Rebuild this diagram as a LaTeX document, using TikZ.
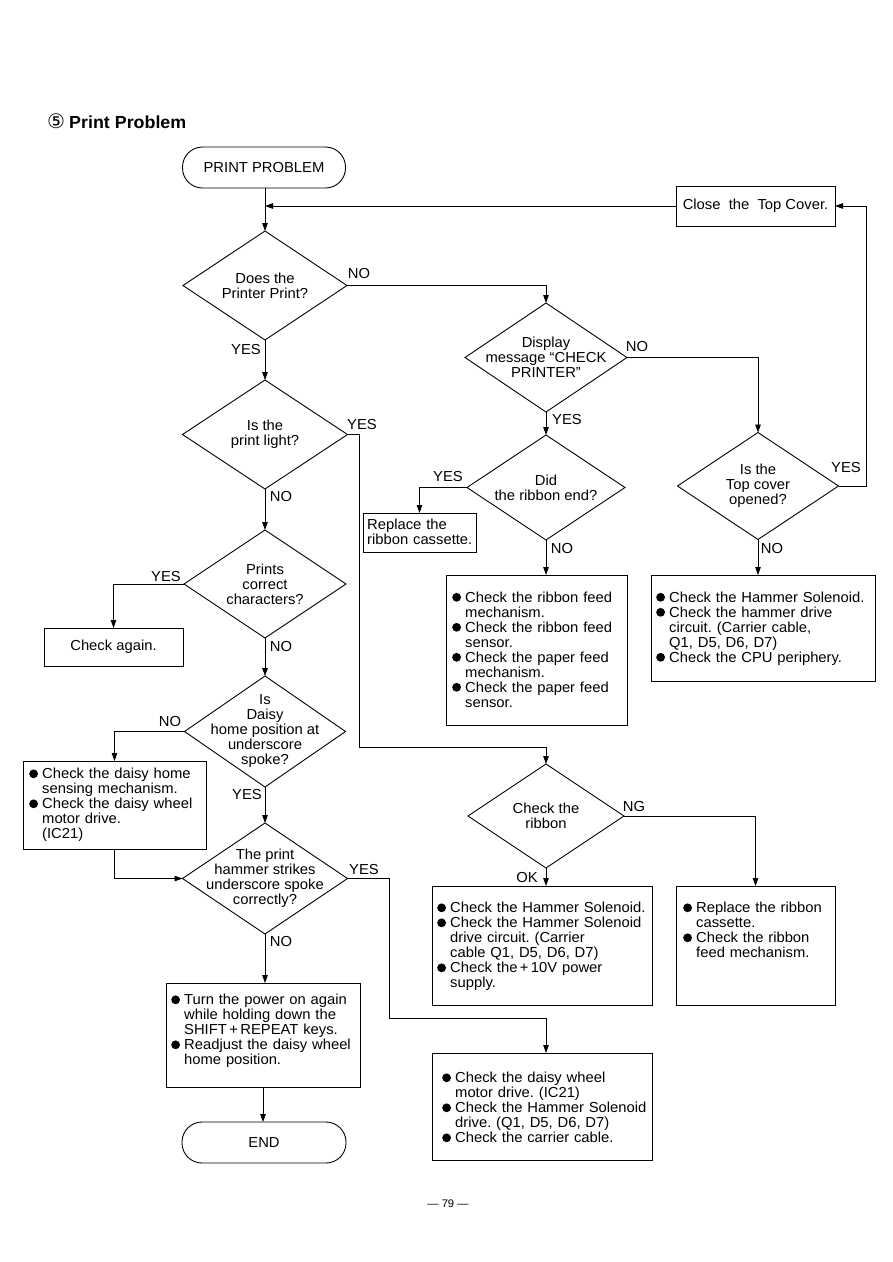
\documentclass[tikz,border=0pt]{standalone}
\usepackage{fontspec}
\setmainfont{Liberation Sans}[FakeStretch=1.02]
\newfontfamily\symfont{DejaVu Sans}
\usetikzlibrary{shapes.geometric,arrows.meta,calc}
\newcommand\bul{\tikz[baseline=0pt]\fill (4.5pt,4.9pt) circle (4.4pt);}
\newcommand\itm{\par\noindent\hangindent=13pt\hangafter=1\makebox[13pt][l]{\bul}\ignorespaces}
\frenchspacing
\begin{document}
\begin{tikzpicture}[x=1pt,y=-1pt,
  every node/.style={font=\fontsize{14.5}{15}\selectfont},
  ln/.style={line width=0.9pt},
  arr/.style={ln,-{Triangle[length=8pt,width=5.5pt]}},
  dec/.style={diamond,draw,ln,inner sep=0pt,outer sep=0pt},
  term/.style={draw,ln,rounded corners=20pt,minimum height=41pt,inner sep=0pt,outer sep=0pt},
  bx/.style={draw,ln,inner sep=0pt,outer sep=0pt},
  bt/.style={anchor=north west,inner sep=0pt,align=left,text width=#1},
  lab/.style={inner sep=0pt}]
\useasboundingbox (0,0) rectangle (893,1262);
\fill[white] (0,0) rectangle (893,1262);

% title
\node[anchor=west,inner sep=0pt] (title) at (47,121) {{\fontsize{20}{22}\selectfont\symfont ⑤}\ {\fontsize{17.5}{20}\selectfont\bfseries Print Problem}};

% terminals
\node[term,minimum width=163pt] (start) at (264,167.5) {PRINT PROBLEM};
\node[term,minimum width=164pt] (end) at (264,1142.5) {END};

% decisions
\node[dec,minimum width=164pt,minimum height=109pt,label={[align=center]center:Does the\\Printer Print?}] (d1) at (265,285.5) {};
\node[dec,minimum width=162pt,minimum height=109pt,label={[align=center]center:Display\\message “CHECK\\PRINTER”}] (d2) at (546,357.5) {};
\node[dec,minimum width=161pt,minimum height=107pt,label={[align=center]center:Is the\\Top cover\\opened?}] (d3) at (758,486) {};
\node[dec,minimum width=158pt,minimum height=105pt,label={[align=center]center:Did\\the ribbon end?}] (d4) at (546,487.5) {};
\node[dec,minimum width=165pt,minimum height=109pt,label={[align=center]center:Is the\\print light?}] (d5) at (265,434.5) {};
\node[dec,minimum width=162pt,minimum height=108pt,label={[align=center]center:Prints\\correct\\characters?}] (d6) at (265,584) {};
\node[dec,minimum width=161pt,minimum height=111pt,label={[align=center]center:Is\\Daisy\\home position at\\underscore\\spoke?}] (d7) at (265,731.5) {};
\node[dec,minimum width=165pt,minimum height=111pt,label={[align=center]center:The print\\hammer strikes\\underscore spoke\\correctly?}] (d8) at (265,878.5) {};
\node[dec,minimum width=156pt,minimum height=104pt,label={[align=center]center:Check the\\ribbon}] (d9) at (546,816) {};

% boxes
\node[bx,minimum width=159pt,minimum height=40pt] (close) at (755.5,206) {Close\ \ the\ \ Top Cover.};
\node[bx,minimum width=113pt,minimum height=39pt] (rep) at (419.5,532.5) {};
\node[bt=108pt] (rep-t) at (367,519) {Replace the\newline ribbon cassette.\par};
\node[bx,minimum width=181pt,minimum height=150pt] (rf) at (536.5,650) {};
\node[bt=172pt] (rf-t) at (452,587) {\itm Check the ribbon feed\newline mechanism.
  \itm Check the ribbon feed\newline sensor.
  \itm Check the paper feed\newline mechanism.
  \itm Check the paper feed\newline sensor.\par};
\node[bx,minimum width=224pt,minimum height=106pt] (hs1) at (763,628) {};
\node[bt=215pt] (hs1-t) at (656,587) {\itm Check the Hammer Solenoid.
  \itm Check the hammer drive\newline circuit. (Carrier cable,\newline Q1, D5, D6, D7)
  \itm Check the CPU periphery.\par};
\node[bx,minimum width=139pt,minimum height=38pt] (again) at (113.5,647) {Check again.};
\node[bx,minimum width=183pt,minimum height=88pt] (daisy) at (114.5,805) {};
\node[bt=176pt] (daisy-t) at (29,763.5) {\itm Check the daisy home\newline sensing mechanism.
  \itm Check the daisy wheel\newline motor drive.\newline (IC21)\par};
\node[bx,minimum width=194pt,minimum height=104pt] (turn) at (263,1035) {};
\node[bt=188pt] (turn-t) at (171,989.5) {\itm Turn the power on again\newline while holding down the\newline SHIFT\thinspace+\thinspace REPEAT keys.
  \itm Readjust the daisy wheel\newline home position.\par};
\node[bx,minimum width=220pt,minimum height=119pt] (hs2) at (542,945.5) {};
\node[bt=213pt] (hs2-t) at (437,897.5) {\itm Check the Hammer Solenoid.
  \itm Check the Hammer Solenoid\newline drive circuit. (Carrier\newline cable Q1, D5, D6, D7)
  \itm Check the\thinspace+\thinspace 10V power\newline supply.\par};
\node[bx,minimum width=159pt,minimum height=119pt] (ng) at (755.5,945.5) {};
\node[bt=150pt] (ng-t) at (683,897.5) {\itm Replace the ribbon\newline cassette.
  \itm Check the ribbon\newline feed mechanism.\par};
\node[bx,minimum width=220pt,minimum height=107pt] (final) at (542,1106.5) {};
\node[bt=208pt] (final-t) at (442,1067.5) {\itm Check the daisy wheel\newline motor drive. (IC21)
  \itm Check the Hammer Solenoid\newline drive. (Q1, D5, D6, D7)
  \itm Check the carrier cable.\par};

% connector labels
\node[lab] (l1) at (359,274) {NO};
\node[lab] (l2) at (246,350) {YES};
\node[lab] (l3) at (637,347) {NO};
\node[lab] (l4) at (567,419) {YES};
\node[lab] (l5) at (448,476) {YES};
\node[lab] (l6) at (562,548) {NO};
\node[lab] (l7) at (846,467) {YES};
\node[lab] (l8) at (772,548) {NO};
\node[lab] (l9) at (362,424) {YES};
\node[lab] (l10) at (281,496) {NO};
\node[lab] (l11) at (166,576) {YES};
\node[lab] (l12) at (281,646) {NO};
\node[lab] (l13) at (170,721) {NO};
\node[lab] (l14) at (247,794) {YES};
\node[lab] (l15) at (364,869) {YES};
\node[lab] (l16) at (281,941) {NO};
\node[lab] (l17) at (634,806) {NG};
\node[lab] (l18) at (527,877) {OK};

\node (pg) at (448,1204) {\fontsize{11}{13}\selectfont —\ 79\ —};

% junction coordinates
\coordinate (c5) at (359,747);
\coordinate (c8) at (389,1018);
\coordinate (c3) at (866,486);

% connectors
\draw[arr] (start.south -| d1.north) -- (d1.north);
\draw[arr] (close.west) -- (close.west -| d1.north);
\draw[arr] (d1.east) -| (d2.north);
\draw[arr] (d1.south) -- (d5.north);
\draw[arr] (d2.east) -| (d3.north);
\draw[arr] (d2.south) -- (d4.north);
\draw[arr] (d4.west) -| (rep.north);
\draw[arr] (d4.south) -- (d4.south |- rf.north);
\draw[arr] (d3.south) -- (d3.south |- hs1.north);
\draw[arr] (d3.east) -- (c3) |- (close.east);
\draw[arr] (d5.east) -| (c5) -| (d9.north);
\draw[arr] (d5.south) -- (d6.north);
\draw[arr] (d6.west) -| (again.north);
\draw[arr] (d6.south) -- (d7.north);
\draw[arr] (d7.west) -| (daisy.north);
\draw[arr] (d7.south) -- (d8.north);
\draw[arr] (daisy.south) |- (d8.west);
\draw[arr] (d8.east) -| (c8) -| (d9.south |- final.north);
\draw[arr] (d8.south) -- (d8.south |- turn.north);
\draw[arr] (turn.south) -- (turn.south |- end.north);
\draw[arr] (d9.east) -| (ng.north);
\draw[arr] (d9.south) -- (d9.south |- hs2.north);
\end{tikzpicture}
\end{document}
